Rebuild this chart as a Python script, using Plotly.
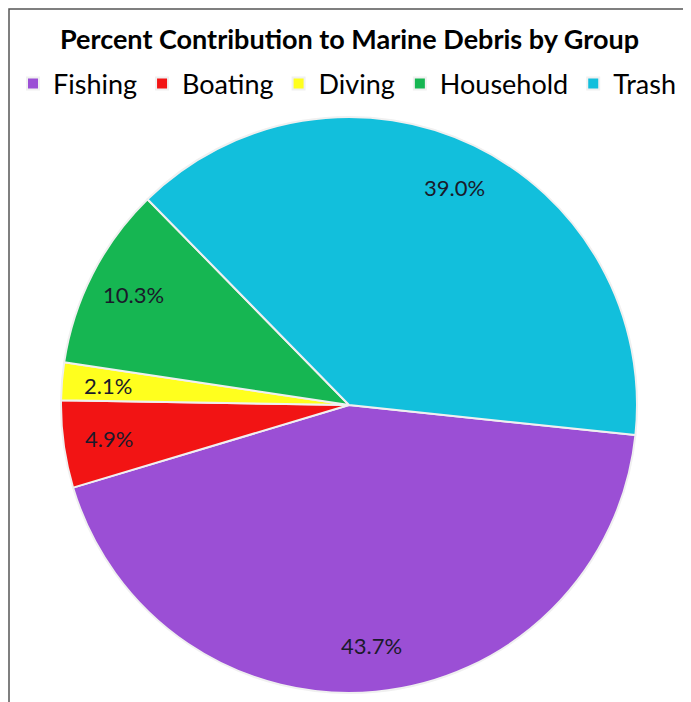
import math
import plotly.graph_objects as go

groups = ["Fishing", "Boating", "Diving", "Household", "Trash"]
percents = [43.7, 4.9, 2.1, 10.3, 39.0]
colors = ["#9B4FD5", "#F21414", "#FFFF1E", "#16B652", "#12BFDC"]

W, H = 691, 702
ROT = 96            # first slice starts 96 deg clockwise from 12 o'clock
CX, CY, R = 341, 397, 288   # pie centre / radius in figure pixels
LABEL_F = 0.84      # label distance as a fraction of the radius

fig = go.Figure(go.Pie(
    labels=groups,
    values=percents,
    sort=False,
    direction="clockwise",
    rotation=ROT,
    marker=dict(colors=colors, line=dict(color="#F0F0F0", width=2)),
    textinfo="none",
    domain=dict(x=[(CX - R) / W, (CX + R) / W], y=[(H - CY - R) / H, (H - CY + R) / H]),
    hoverinfo="label+percent",
))

# percentage labels placed along each slice's mid-angle (Excel style)
total = sum(percents)
cum = 0.0
annotations = []
for g, v in zip(groups, percents):
    mid = cum + v / 2
    cum += v
    theta = math.radians(90 - ROT - 360 * mid / total)
    px = CX + LABEL_F * R * math.cos(theta)
    py = CY - LABEL_F * R * math.sin(theta)
    annotations.append(dict(x=px / W, y=1 - py / H, xref="paper", yref="paper",
                            xanchor="center", yanchor="middle",
                            text=f"{v:.1f}%", showarrow=False,
                            font=dict(family="Lato", size=22, color="#1a1a2a")))

fig.update_layout(
    width=W, height=H,
    margin=dict(l=0, r=0, t=0, b=0),
    paper_bgcolor="white",
    title=dict(text="<b>Percent Contribution to Marine Debris by Group</b>",
               x=341.5 / W, xanchor="center", y=1 - 32 / H, yanchor="middle",
               font=dict(family="Lato", size=27, color="black")),
    legend=dict(orientation="h", x=339 / W, xanchor="center", y=1 - 76 / H, yanchor="middle",
                font=dict(family="Lato", size=27, color="black"),
                bgcolor="rgba(0,0,0,0)",
                itemwidth=30, traceorder="normal"),
    annotations=annotations,
    shapes=[dict(type="rect", xref="paper", yref="paper",
                 x0=1 / W, x1=1.05, y0=-0.05, y1=1 - 1 / H,
                 line=dict(color="#555555", width=1.5), fillcolor="rgba(0,0,0,0)")],
)

fig.write_html("out.html")
